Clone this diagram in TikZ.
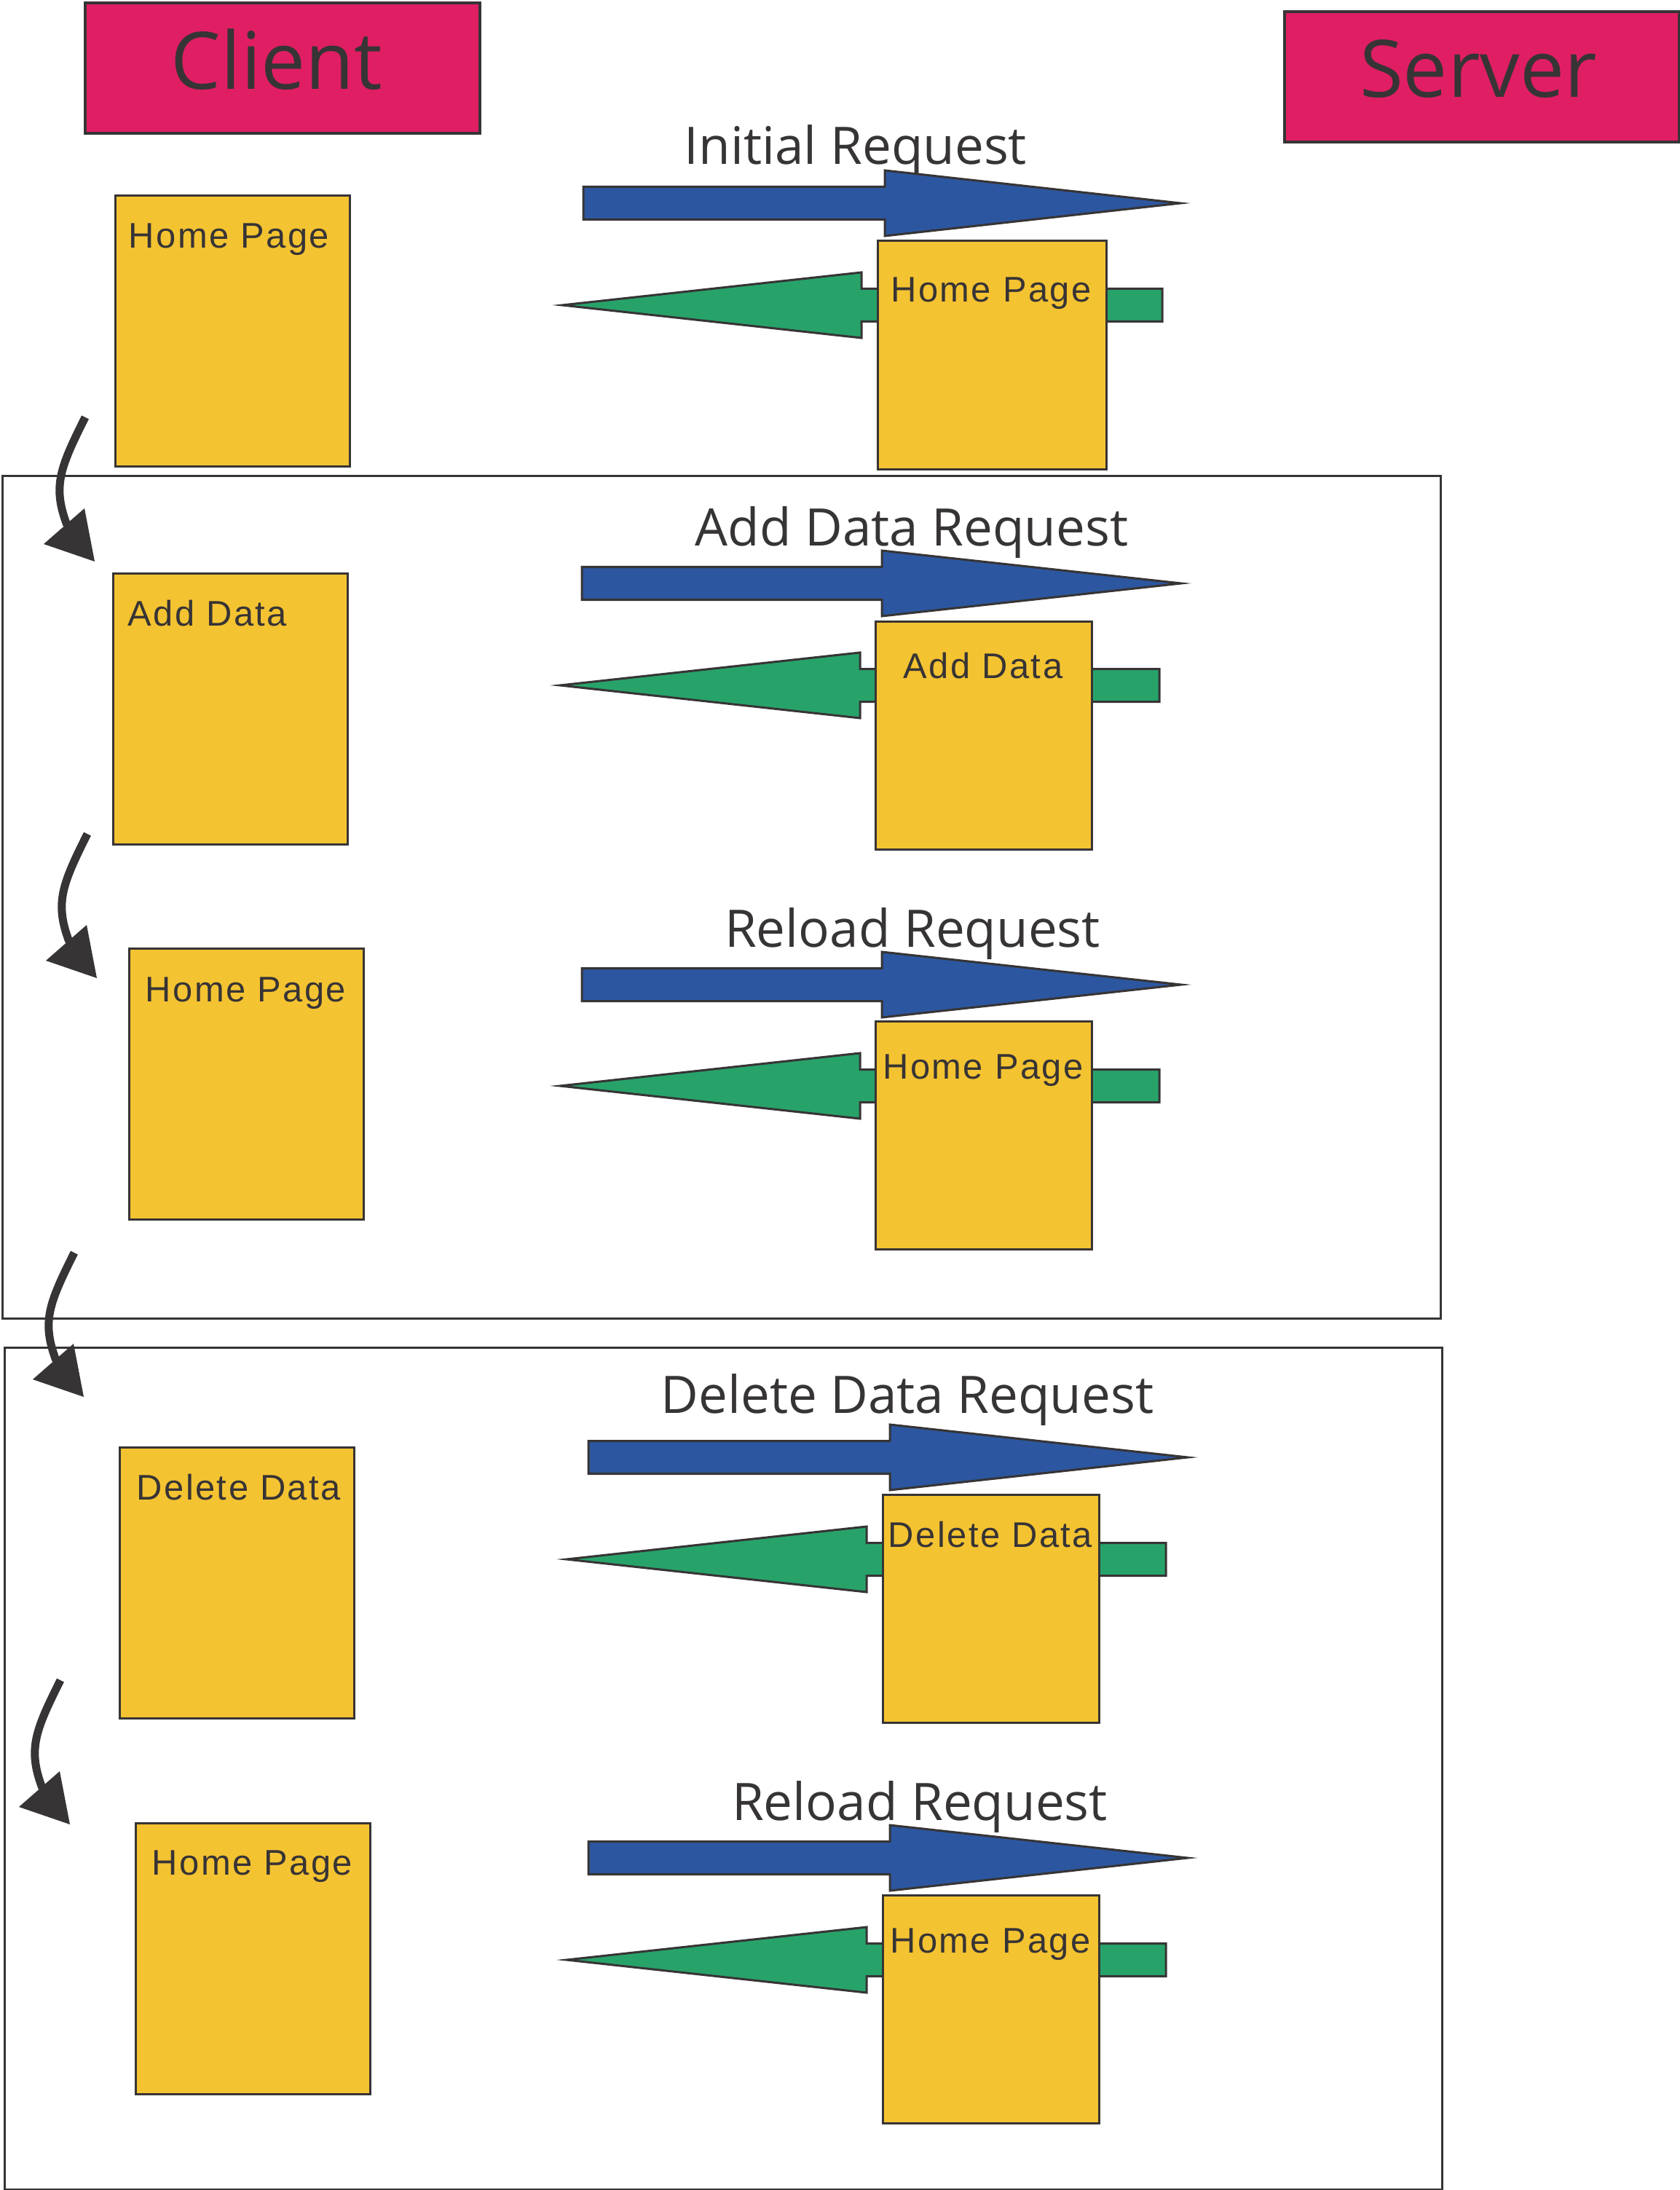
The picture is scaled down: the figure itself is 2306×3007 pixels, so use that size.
\documentclass[tikz,border=0pt]{standalone}
\usepackage{fontspec}
\setmainfont{Open Sans}
\newfontfamily\boxfont[LetterSpace=5]{Liberation Sans}
\definecolor{magentabox}{HTML}{E01E64}
\definecolor{pageyellow}{HTML}{F4C331}
\definecolor{reqblue}{HTML}{2C57A0}
\definecolor{respgreen}{HTML}{27A36A}
\definecolor{inkgray}{HTML}{373435}
\newcommand{\reqarr}[4]{\draw[reqarrow] (#1,#4-22.5) -- (#2,#4-22.5) -- (#2,#4-45) -- (#3,#4) -- (#2,#4+45) -- (#2,#4+22.5) -- (#1,#4+22.5) -- cycle;}
\newcommand{\resparr}[4]{\draw[resparrow] (#1,#4) -- (#2,#4-45) -- (#2,#4-22.5) -- (#3,#4-22.5) -- (#3,#4+22.5) -- (#2,#4+22.5) -- (#2,#4+45) -- cycle;}
\begin{document}
\begin{tikzpicture}[x=0.01cm,y=-0.01cm,
  headbox/.style={draw=inkgray, line width=0.04cm, fill=magentabox, anchor=north west, inner sep=0, minimum width=5.42cm, minimum height=1.79cm},
  headtext/.style={text=inkgray, font=\fontsize{31}{36}\selectfont, anchor=base, inner sep=0},
  groupframe/.style={draw=inkgray, line width=0.03cm, anchor=north west, inner sep=0},
  clientpage/.style={draw=inkgray, line width=0.03cm, fill=pageyellow, anchor=north west, inner sep=0, minimum width=3.22cm, minimum height=3.72cm},
  serverpage/.style={draw=inkgray, line width=0.03cm, fill=pageyellow, anchor=north west, inner sep=0, minimum width=2.97cm, minimum height=3.13cm},
  pagetext/.style={text=inkgray, font=\boxfont\fontsize{13.9}{16}\selectfont, inner sep=0},
  reqtext/.style={text=inkgray, font=\fontsize{20.2}{24}\selectfont, anchor=base, inner sep=0},
  reqarrow/.style={draw=inkgray, line width=0.03cm, fill=reqblue},
  resparrow/.style={draw=inkgray, line width=0.03cm, fill=respgreen},
  flowline/.style={draw=inkgray, line width=0.11cm},
  flowhead/.style={fill=inkgray}
]
\useasboundingbox (0,0) rectangle (2306,3007);

% headers
\node[headbox] (clientbox) at (115,2) {};
\node[headtext] (clienttext) at (380,123) {Client};
\node[headbox] (serverbox) at (1762,14) {};
\node[headtext] (servertext) at (2030,134) {Server};

% group frames
\node[groupframe, minimum width=19.74cm, minimum height=11.56cm] (frameone) at (2,652) {};
\node[groupframe, minimum width=19.73cm, minimum height=11.55cm] (frametwo) at (5,1849) {};

% client pages
\node[clientpage] (c1) at (157,267) {};
\node[pagetext, anchor=base west] (c1t) at (176,341) {Home Page};
\node[clientpage] (c2) at (154,786) {};
\node[pagetext, anchor=base west] (c2t) at (175,859) {Add Data};
\node[clientpage] (c3) at (176,1301) {};
\node[pagetext, anchor=base west] (c3t) at (199,1375) {Home Page};
\node[clientpage] (c4) at (163,1986) {};
\node[pagetext, anchor=base west] (c4t) at (187,2059) {Delete Data};
\node[clientpage] (c5) at (185,2502) {};
\node[pagetext, anchor=base west] (c5t) at (208,2574) {Home Page};

% request labels
\node[reqtext] (r1) at (1175,226) {Initial Request};
\node[reqtext] (r2) at (1252,750) {Add Data Request};
\node[reqtext] (r3) at (1253,1300) {Reload Request};
\node[reqtext] (r4) at (1246,1940) {Delete Data Request};
\node[reqtext] (r5) at (1263,2499) {Reload Request};

% request arrows (client -> server)
\reqarr{801}{1215}{1621}{279}
\reqarr{799}{1211}{1622}{801}
\reqarr{799}{1211}{1622}{1352}
\reqarr{808}{1222}{1631}{2001}
\reqarr{808}{1222}{1631}{2551}

% response arrows (server -> client)
\resparr{772}{1183}{1596}{419}
\resparr{769}{1181}{1592}{941}
\resparr{769}{1181}{1592}{1491}
\resparr{778}{1190}{1601}{2141}
\resparr{778}{1190}{1601}{2691}

% server pages
\node[serverpage, minimum width=3.14cm, minimum height=3.14cm] (s1) at (1204,329) {};
\node[pagetext, anchor=base] (s1t) at (1361,415) {Home Page};
\node[serverpage] (s2) at (1201,852) {};
\node[pagetext, anchor=base] (s2t) at (1350,931) {Add Data};
\node[serverpage] (s3) at (1201,1401) {};
\node[pagetext, anchor=base] (s3t) at (1350,1481) {Home Page};
\node[serverpage] (s4) at (1211,2051) {};
\node[pagetext, anchor=base] (s4t) at (1360,2124) {Delete Data};
\node[serverpage] (s5) at (1211,2601) {};
\node[pagetext, anchor=base] (s5t) at (1360,2681) {Home Page};

% flow arrows between client pages
\coordinate (a1s) at (117,573);
\coordinate (a1e) at (92,721);
\coordinate (a2s) at (120,1145);
\coordinate (a2e) at (95,1293);
\coordinate (a3s) at (102,1720);
\coordinate (a3e) at (77,1868);
\coordinate (a4s) at (83,2307);
\coordinate (a4e) at (58,2455);
\draw[flowline] (a1s) .. controls +(-35,70) and +(-20,-53) .. (a1e);
\fill[flowhead] (a1s) ++(13,198) -- ++(-70,-24) -- ++(56,-49) -- cycle;
\draw[flowline] (a2s) .. controls +(-35,70) and +(-20,-53) .. (a2e);
\fill[flowhead] (a2s) ++(13,198) -- ++(-70,-24) -- ++(56,-49) -- cycle;
\draw[flowline] (a3s) .. controls +(-35,70) and +(-20,-53) .. (a3e);
\fill[flowhead] (a3s) ++(13,198) -- ++(-70,-24) -- ++(56,-49) -- cycle;
\draw[flowline] (a4s) .. controls +(-35,70) and +(-20,-53) .. (a4e);
\fill[flowhead] (a4s) ++(13,198) -- ++(-70,-24) -- ++(56,-49) -- cycle;
\end{tikzpicture}
\end{document}
